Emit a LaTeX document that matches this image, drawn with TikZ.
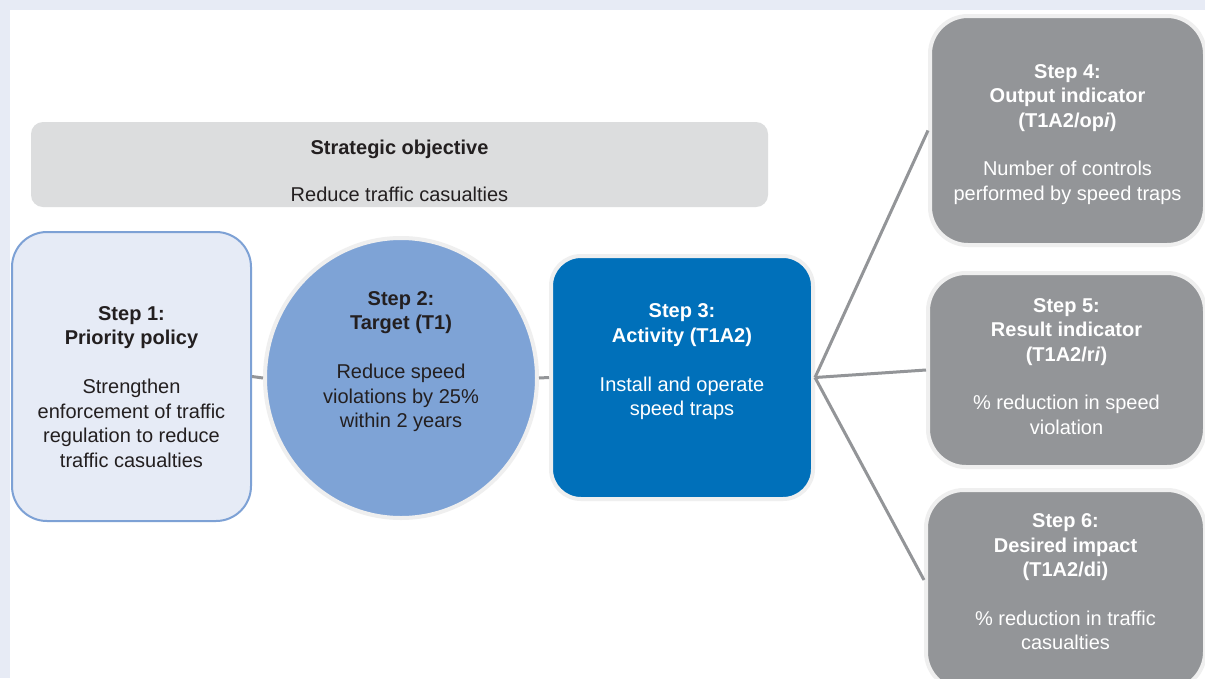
\documentclass[tikz,border=0pt]{standalone}
\usepackage{fontspec}
\setmainfont{Liberation Sans}
\usetikzlibrary{shapes.geometric}

\definecolor{bandblue}{HTML}{E7EBF5}
\definecolor{objgray}{HTML}{DCDDDE}
\definecolor{policyfill}{HTML}{E6EBF6}
\definecolor{policyline}{HTML}{7DA1D5}
\definecolor{targetblue}{HTML}{7EA3D6}
\definecolor{activityblue}{HTML}{0070BA}
\definecolor{indgray}{HTML}{939598}
\definecolor{ringgray}{HTML}{EFEFEF}
\definecolor{textdark}{HTML}{231F20}

\begin{document}
\begin{tikzpicture}[x=1pt, y=-1pt,
  every node/.style={
    align=center,
    font=\fontsize{20}{24.5}\selectfont,
  },
  ringed/.style={draw=ringgray, line width=4pt},
  policybox/.style={rectangle, rounded corners=35pt, fill=policyfill, draw=policyline, line width=2pt},
  targetdisc/.style={ellipse, fill=targetblue, ringed},
  activitybox/.style={rectangle, rounded corners=30pt, fill=activityblue, ringed},
  indicatorbox/.style={rectangle, rounded corners=38pt, fill=indgray, ringed},
  link/.style={draw=indgray, line width=3pt},
]
\useasboundingbox (0,0) rectangle (1205,678);
\clip (0,0) rectangle (1205,678);
\fill[bandblue] (0,0) rectangle (1205,678);
\fill[white] (10,10) rectangle (1205,678);

\node[rectangle, rounded corners=12pt, fill=objgray, minimum width=737pt, minimum height=85pt] (objective) at (399.5,164.5) {};
\node[text=textdark] (objective-text) at ([yshift=-6pt]objective.center) {\textbf{Strategic objective}\\[22.5pt]Reduce traffic casualties};

\node[policybox, minimum width=239pt, minimum height=289pt] (policy) at (131.5,376.5) {};
\node[targetdisc, minimum width=272pt, minimum height=280pt] (target) at (401,378) {};
\node[activitybox, minimum width=262pt, minimum height=243pt] (activity) at (682,377.5) {};
\node[indicatorbox, minimum width=275pt, minimum height=229pt] (output) at (1067.5,130.5) {};
\node[indicatorbox, minimum width=277pt, minimum height=194pt] (result) at (1066.5,370) {};
\node[indicatorbox, minimum width=279pt, minimum height=200pt] (impact) at (1065.5,590) {};

\node[text=textdark] (policy-text) at ([yshift=-10.5pt]policy.center) {\textbf{Step 1:}\\\textbf{Priority policy}\\[24.5pt]Strengthen\\enforcement of traffic\\regulation to reduce\\traffic casualties};
\node[text=textdark] (target-text) at ([yshift=16.5pt]target.center) {\textbf{Step 2:}\\\textbf{Target (T1)}\\[24.5pt]Reduce speed\\violations by 25\%\\within 2 years};
\node[text=white] (activity-text) at ([yshift=15.5pt]activity.center) {\textbf{Step 3:}\\\textbf{Activity (T1A2)}\\[24.5pt]Install and operate\\speed traps};
\node[text=white] (output-text) at ([yshift=-4pt]output.center) {\textbf{Step 4:}\\\textbf{Output indicator}\\\textbf{(T1A2/op\textit{i})}\\[24pt]Number of controls\\performed by speed traps};
\node[text=white] (result-text) at ([yshift=3.5pt]result.center) {\textbf{Step 5:}\\\textbf{Result indicator}\\\textbf{(T1A2/r\textit{i})}\\[24pt]\% reduction in speed\\violation};
\node[text=white] (impact-text) at ([yshift=8pt]impact.center) {\textbf{Step 6:}\\\textbf{Desired impact}\\\textbf{(T1A2/di)}\\[24pt]\% reduction in traffic\\casualties};

\path[link] (policy.east) -- (target.west);
\path[link] (target.east) -- (activity.west);
\path[link] (activity.east) -- (output.west);
\path[link] (activity.east) -- (result.west);
\path[link] (activity.east) -- ([yshift=10pt]impact.west);
\end{tikzpicture}
\end{document}
